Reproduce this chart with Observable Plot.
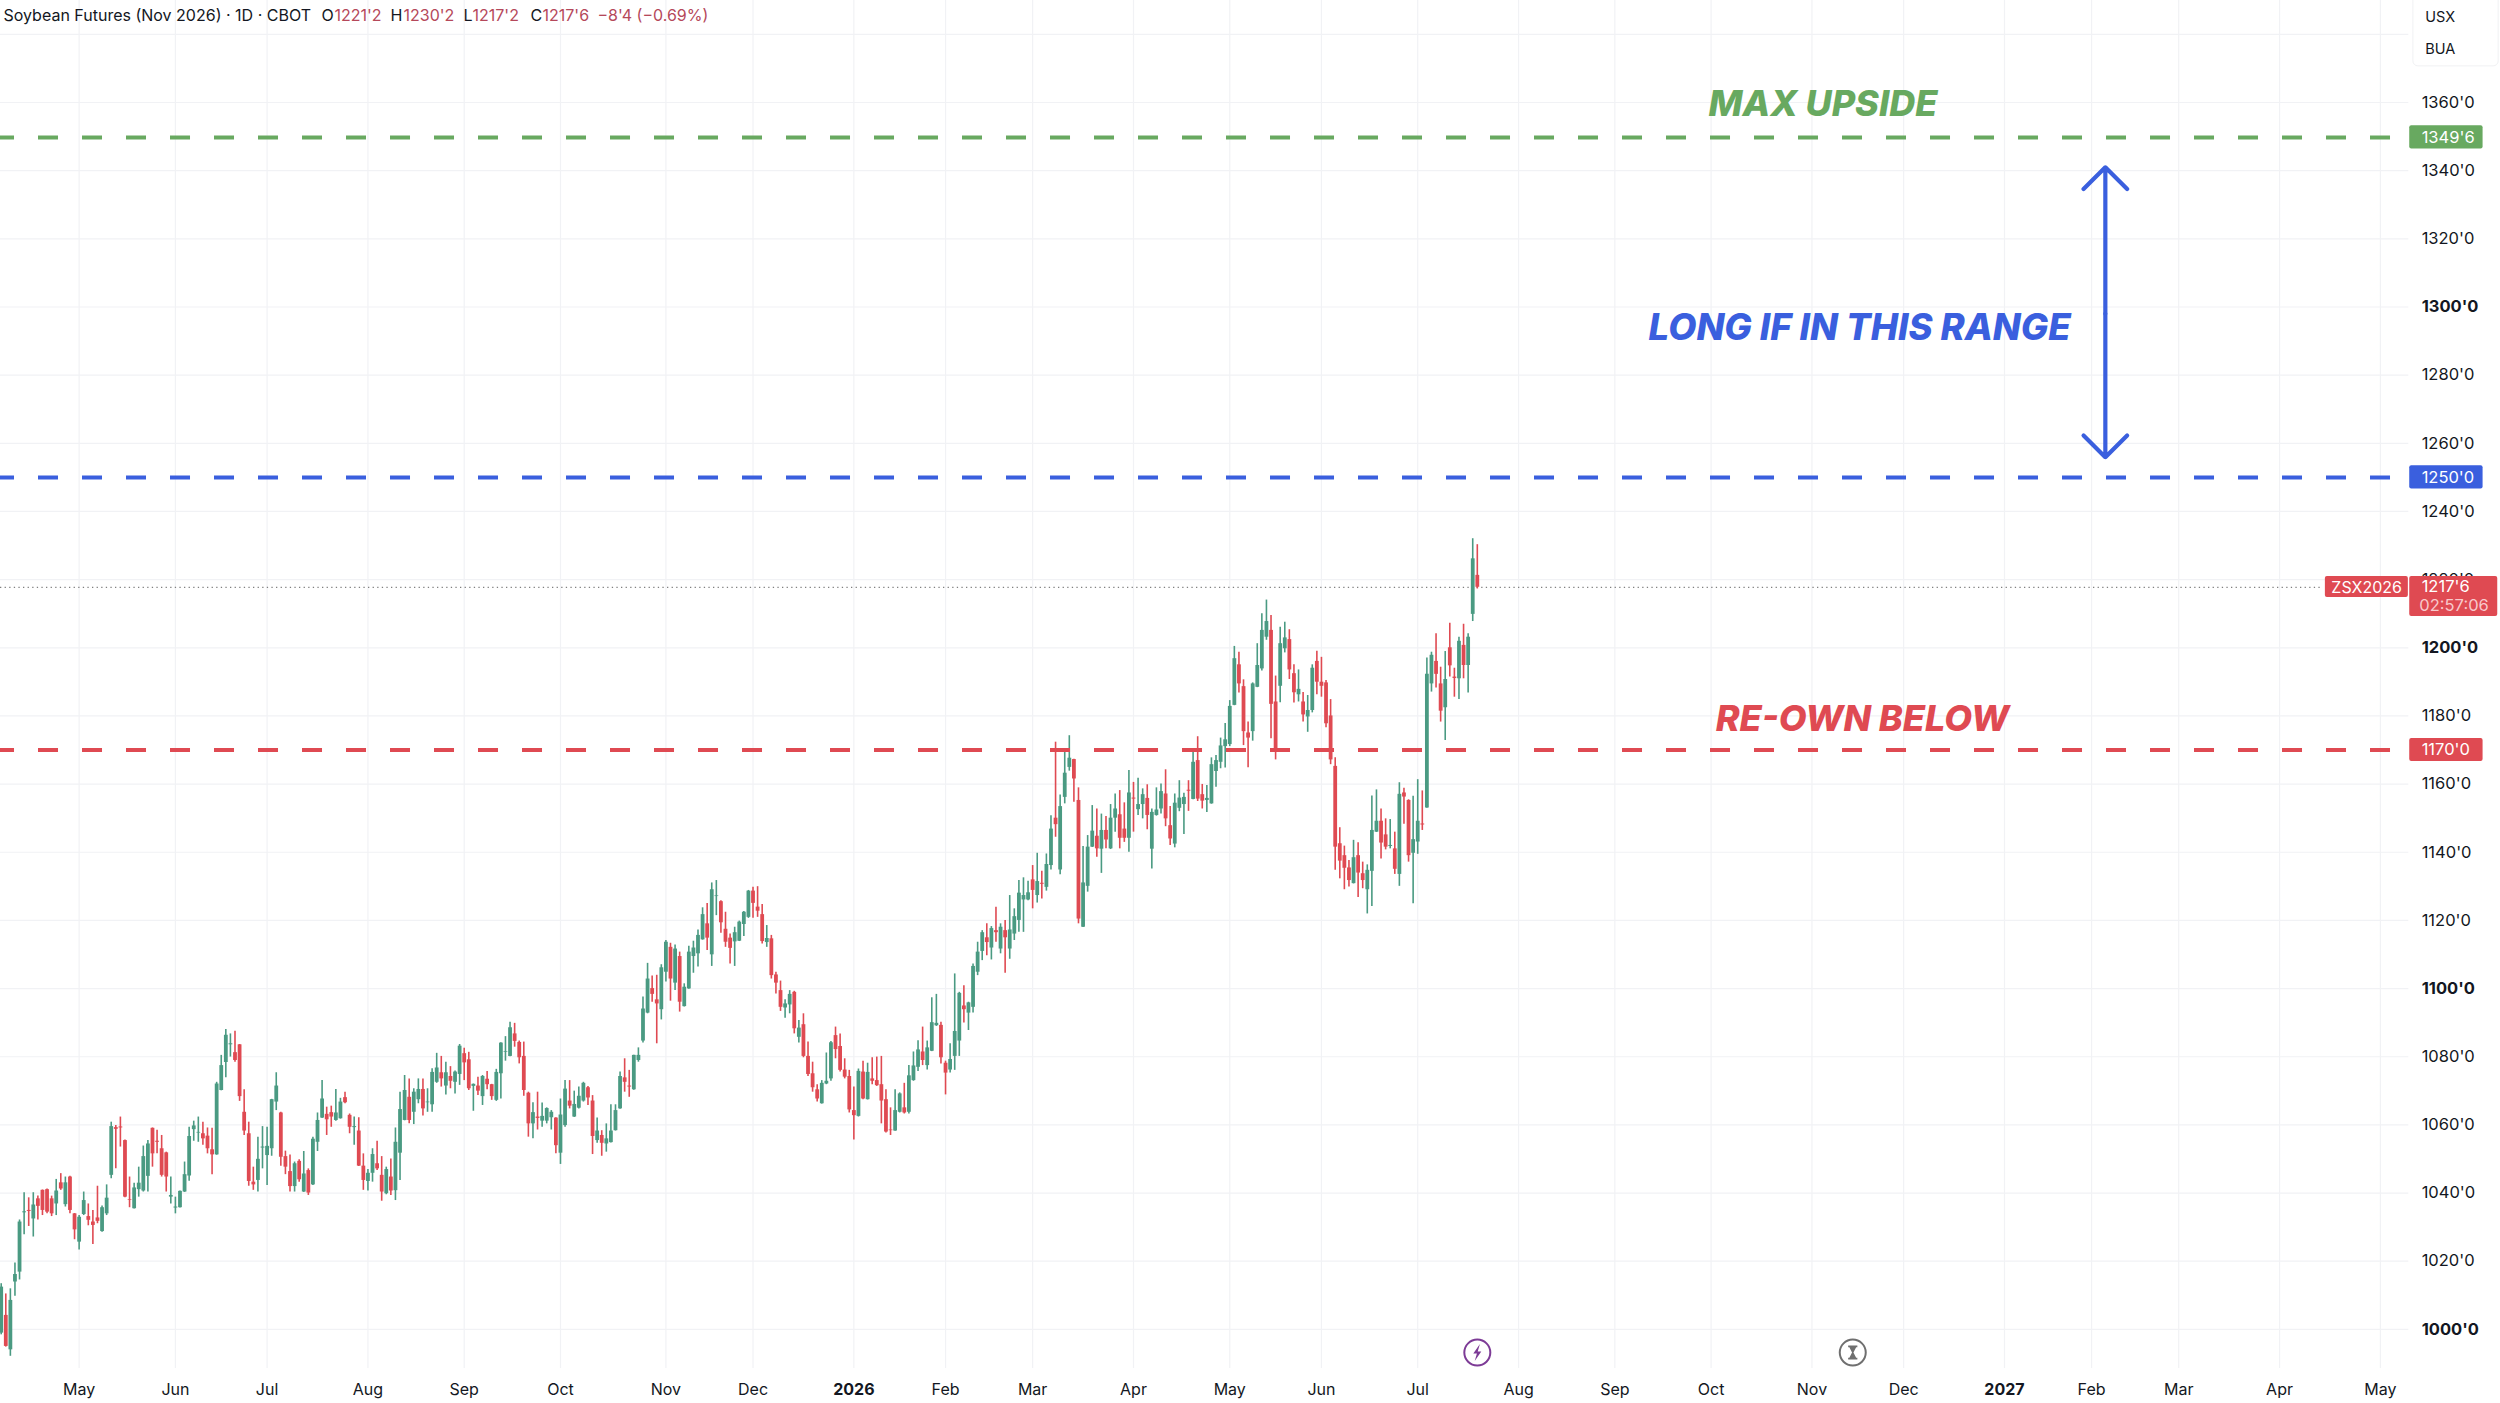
<!DOCTYPE html>
<html>
<head>
<meta charset="utf-8">
<script src="https://cdn.jsdelivr.net/npm/d3@7"></script>
<script src="https://cdn.jsdelivr.net/npm/@observablehq/plot@0.6"></script>
<style>html,body{margin:0;padding:0;background:#fff}svg{display:block}</style>
</head>
<body>
<div id="chart"></div>
<script>
// Each row: open, high, low, close (cents per bushel).
const barsApr2025 = [
[998.9,1013.4,998.4,1012.4],[1004.1,1010.4,994.8,995],[994,1011.9,992.1,1008.5],[1013.9,1019.5,1009.7,1016.1],[1016.8,1032.1,1014.5,1031.5],
[1034.2,1040.1,1027.8,1034.5],[1034.9,1038.6,1030.2,1034.6],[1032.4,1040.1,1027.1,1036.5],[1038.3,1039.1,1032.1,1036.1],[1040.8,1040.9,1033.4,1034.9],
[1041,1041.2,1033.9,1034.4],[1038.3,1039.1,1033.1,1033.9],[1036.8,1044,1033.4,1040.6],[1043,1045.7,1040.8,1041.2],[1036.6,1044.7,1035.9,1043],
[1044.7,1044.9,1033.9,1034.9],[1033.9,1034,1026.3,1029.2],[1025.6,1033.4,1023.3,1032.9],[1033.7,1040.3,1033.4,1037.8],[1033.1,1036.8,1030.4,1032],
[1031.5,1034.9,1024.9,1030.5],[1032.7,1042,1031,1031.7],[1028.7,1036.2,1028.5,1035.7],[1033.9,1042.4,1033.4,1038.5],[1045.2,1060.8,1044.2,1059.5],
[1059.2,1059.8,1047.1,1058.7],[1059.4,1062.3,1053.5,1059.1],[1055.4,1055.6,1038.6,1038.8],[1038.1,1044.7,1035.7,1037.9],[1035.4,1042.9,1035.3,1041.5],
[1041,1047.6,1038.8,1042.9],[1040.6,1053.8,1040.3,1050.7],[1044.9,1055.4,1040.3,1054.4],[1059,1059.1,1047.6,1051.5],[1055.2,1058.4,1051.5,1054.9],
[1053,1056.9,1044.7,1045.2],[1051.8,1052,1040.3,1044.7],[1038.8,1044.7,1036.8,1039.3],[1035.6,1038.8,1033.9,1035.9],[1035.7,1040.6,1035.6,1040.5],
[1040.3,1049.1,1040.2,1045.4],[1045,1059.3,1043.5,1056.6],[1058.6,1061.1,1055.2,1059.7],[1057.6,1062.3,1054.9,1057.8],[1057.4,1060.8,1054,1055.9],
[1056.7,1059.1,1051.5,1053],[1052.7,1059,1045.4,1051.2],[1051.2,1072.5,1051.1,1072],[1070.1,1080.4,1070,1077.4],[1078.3,1088,1073.8,1086.3],
[1083.5,1086.7,1079.9,1083.8],[1081.2,1087.5,1078.4,1078.9],[1083.5,1083.6,1066.9,1068.3],[1063.7,1070.3,1056.9,1058.2],[1057.4,1060.8,1042,1043.4]
];
const barsJul2025 = [
[1043.2,1047.6,1040.8,1042.4],[1043.7,1056.4,1040.3,1049.9],[1053.2,1059.5,1047.1,1053.5],[1051,1059.3,1042.2,1053.7],[1053,1067.5,1050.8,1067.4],
[1066.7,1075.3,1064.2,1071.4],[1063.5,1063.7,1047.9,1050.5],[1050.7,1052.3,1045.4,1047.6],[1046.3,1051.2,1040.3,1041.9],[1041.9,1049.1,1040.3,1048.6],
[1049.3,1049.8,1043.2,1043.9],[1040.3,1052.2,1040.2,1045.6],[1046.6,1047.1,1039.3,1040],[1042.4,1056.4,1042.2,1055.8],[1054.9,1063.5,1052.2,1061.3],
[1062,1073,1061.9,1067.6],[1063.1,1065.2,1056.9,1061.5],[1063.6,1065.5,1059.3,1062.3],[1061.3,1070.4,1061.1,1063.5],[1061.8,1067.8,1061.7,1066.7],
[1068,1069.6,1066.2,1066.5],[1062.8,1063.2,1057.4,1059.3],[1059.2,1062.3,1054,1059.5],[1058.2,1062.1,1047.8,1047.9],[1047.9,1051.5,1040.8,1043.7],
[1043.4,1046.9,1040.6,1045.8],[1045.8,1053,1043.2,1051.3],[1048.6,1055.2,1046.6,1047.1],[1045.2,1050.7,1037.6,1040.3],[1039.8,1047.6,1039.5,1046.9],
[1044.7,1050,1039.3,1040.6],[1040.7,1059.1,1037.8,1054.9],[1051.7,1069.6,1043.7,1064.5],[1061.3,1074.5,1061.2,1070.1],[1068.1,1073.5,1060.3,1061.3],
[1063.7,1070.6,1060.1,1069.6],[1067.4,1073.5,1066.2,1070.4],[1070.4,1073.5,1062.6,1064.7],[1066.5,1070.6,1063.7,1066.7],[1065.9,1076.5,1063.7,1075.4],
[1072.5,1081,1072.2,1076.7],[1075.3,1080.1,1071.1,1073.5],[1071.4,1078.4,1068.8,1075.3],[1074.2,1077.1,1070.6,1072.8],[1072.5,1075.8,1069.1,1075.5],
[1074.8,1083.6,1071.6,1083.1],[1080.9,1082.5,1073,1078.2],[1079.1,1081.3,1070.1,1070.6],[1071.3,1072,1064,1071.9],[1071.4,1074,1068.6,1069.9],
[1068.3,1074.5,1065.7,1074.2],[1073.4,1075.7,1070.3,1071.8],[1071.8,1071.9,1067.2,1068.3],[1067.2,1076.3,1066.9,1075.4]
];
const barsOct2025 = [
[1075,1084.1,1067.6,1084],[1081.3,1085.9,1078.7,1081.5],[1080.1,1090.1,1080,1088.5],[1086.7,1089.8,1082.8,1084.5],[1084.2,1084.6,1077.9,1079.7],
[1080.1,1084.3,1068.4,1070.1],[1069.3,1069.6,1056.4,1060.3],[1060.3,1066.5,1055.9,1063.6],[1062.3,1069.6,1058.5,1061.9],[1061.1,1066.4,1059.3,1062.5],
[1061.1,1065,1060.3,1064.8],[1062.1,1064.2,1058.5,1063.7],[1062,1062.1,1051.5,1053.9],[1051.7,1067.6,1048.4,1062.9],[1059.8,1073,1059.3,1070.5],
[1067,1073,1064.7,1065.5],[1062.3,1069.9,1062.2,1066],[1064.9,1071.1,1064.7,1068.4],[1067,1072.5,1066.7,1072.2],[1070.9,1071.3,1065.7,1067.9],
[1067,1068.6,1051.3,1056.6],[1055.4,1062,1054.6,1058.2],[1056.9,1058.3,1050.8,1054.6],[1054.4,1060.3,1052,1055.9],[1054.8,1065.9,1054.7,1058.2],
[1058.3,1065.9,1058.2,1064.2],[1064.7,1075.5,1064.6,1074.2],[1073.8,1079.4,1069.6,1072.5],[1071.4,1076,1068.1,1071.1],[1070.3,1080.4,1070.2,1080.4],
[1078.9,1082.6,1078.4,1080.4],[1084.6,1097.5,1084,1094],[1092.8,1107.4,1092.6,1102.8],[1100,1103.7,1096,1098.3],[1096.7,1103.9,1083.8,1095.5],
[1093.8,1107,1090.8,1106.1],[1104.8,1114.1,1101.9,1113.6],[1112.1,1113.3,1096.3,1102.8],[1101.6,1112.8,1099.4,1111.6],[1109.4,1110.7,1093.1,1096],
[1094.7,1101.4,1094.6,1100.4],[1099.9,1112.4,1099.8,1110.7],[1109.4,1113.9,1104.5,1111.9],[1110.2,1117.2,1106.3,1115.6],[1114.3,1123.7,1114.2,1121.7],
[1119,1125,1111.2,1114.8],[1109.9,1131,1106.5,1129],[1127,1131.7,1121.4,1127.2],[1125.5,1125.8,1116.2,1119.3],[1117.4,1122.4,1112.1,1113.6],
[1114.8,1116,1107.2,1111.8],[1113.7,1118,1106.5,1116.4],[1113.9,1119.8,1113.8,1119.5],[1118.8,1122.6,1115.3,1122.4],[1120.9,1128.8,1120.6,1128.6]
];
const barsJan2026 = [
[1128.6,1129.7,1120.6,1125],[1123.9,1129.9,1120.9,1122.7],[1121.7,1124.7,1113.1,1113.8],[1113.5,1118.5,1112.1,1114.7],[1114.6,1115.6,1102.8,1103.8],
[1104,1104.8,1098.4,1101.6],[1099.4,1102.2,1093.3,1094.5],[1094.3,1096.7,1091.3,1095.5],[1095.2,1099.4,1092.6,1098.3],[1098.9,1099.2,1086.7,1088.2],
[1085.7,1090.6,1084,1088.4],[1089.4,1092.6,1079.7,1080.1],[1080.1,1084.3,1074.2,1074.8],[1075,1078.4,1069.6,1070.9],[1070.3,1071.8,1066.7,1067.6],
[1066.2,1073,1066.1,1072.2],[1072,1081.1,1071.8,1072.8],[1073.5,1084.5,1072.8,1084.1],[1086.2,1088.7,1079.4,1082.1],[1083,1086.7,1075.5,1076],
[1076.1,1079.4,1073.5,1074],[1074.2,1076,1063.5,1064.4],[1064.2,1071.1,1055.6,1062.7],[1062.5,1076.4,1062.3,1075.7],[1075.5,1078.7,1067.4,1067.6],
[1067.4,1078.1,1067.3,1075.4],[1073.5,1079.7,1071.8,1072.8],[1073,1079.9,1071.3,1071.5],[1071.8,1080.1,1060.3,1067],[1067.4,1070.3,1057.6,1057.9],
[1058.5,1065,1056.9,1058.3],[1058.2,1070.3,1058.1,1064.2],[1063.7,1069.4,1063.5,1069.1],[1065,1072.2,1063.2,1063.5],[1063.7,1077.4,1063.2,1074.4],
[1073,1081.4,1072.8,1077.3],[1076.9,1084.7,1075.7,1082],[1081.4,1088.7,1077.4,1078.9],[1077.4,1084.6,1076.1,1082.6],[1081.6,1097.3,1081.5,1090],
[1089.1,1098.3,1088.9,1089.8],[1089.2,1090.1,1077.9,1079.7],[1078.1,1078.7,1068.8,1075.2],[1076.1,1083.8,1075.2,1079.2],[1080.1,1104.3,1076,1087.4],
[1084.6,1098.9,1080.1,1098.6],[1094.9,1100.8,1089.9,1093.8],[1092.8,1096,1087.7,1095.8],[1094.5,1107.2,1092.8,1106.5],[1104.8,1113.6,1103.8,1110.7],
[1110.9,1117,1108.2,1116.4],[1114.9,1119,1109.6,1113.5],[1111.9,1118.2,1108.4,1117.6],[1117,1123.9,1113.6,1116.4]
];
const barsMar2026 = [
[1111.6,1119,1110.2,1118],[1117,1120,1104.5,1114.9],[1111.6,1127.3,1108.6,1117.2],[1116,1123.4,1114.1,1121.1],[1120,1131.7,1116.5,1128],
[1126,1132.5,1116.5,1127.3],[1126,1131.5,1125.8,1128.1],[1131.9,1136.1,1123.4,1128.8],[1127.3,1139.7,1125.1,1131.4],[1130.9,1134.4,1126.3,1130.6],
[1129.7,1139.5,1128.6,1136.4],[1136.1,1150.7,1134.8,1146.8],[1150,1172.3,1144.4,1148.1],[1134.8,1156.8,1133.4,1153.4],[1156.1,1170.3,1154.2,1163.2],
[1164.9,1174.2,1163.8,1167.6],[1167.2,1167.3,1154.7,1161.5],[1155.2,1158.9,1119,1120.4],[1118,1141.7,1117.9,1131],[1130,1144.9,1128.3,1141.5],
[1141.5,1153.7,1141.4,1146.2],[1144.7,1152.7,1138.5,1141],[1140.9,1151.2,1133.8,1146.4],[1146.4,1150.5,1141,1143.6],[1141,1154,1140.8,1150],
[1150,1157.1,1145.9,1152.7],[1151,1158.1,1141,1144.1],[1146.8,1154.5,1142.9,1144.1],[1144.1,1164,1140,1157.4],[1155.9,1160.5,1145.9,1155.6],
[1152.5,1161.7,1150.8,1154],[1154,1158.6,1149.8,1156.9],[1155.8,1159.8,1146.6,1150.8],[1140.9,1152.7,1135.1,1151.7],[1150.8,1158.9,1150.6,1152.4],
[1152.7,1160,1151.2,1157.8],[1157.1,1164.2,1147.5,1149.8],[1147.8,1153.4,1142,1143.9],[1142.4,1157.1,1141.3,1154.4],[1152.9,1161,1151.9,1155.9],
[1154,1157.3,1145.2,1156.1],[1158.2,1161,1152,1157.9],[1155.5,1169.3,1155.4,1166.4],[1166.9,1173.9,1154.9,1155.6],[1156.9,1159.9,1152.7,1155],
[1155.2,1159.6,1151.7,1155.8],[1154.2,1167.7,1154.1,1165.7],[1163.7,1168.4,1159.1,1166.9],[1166.4,1173.5,1164.5,1171.2],[1171,1177.8,1164.7,1173],
[1171.6,1184.5,1171,1182.8]
];
const barsMay2026 = [
[1183.1,1200.4,1183,1196.8],[1195,1198.7,1186.7,1189.4],[1188.6,1190.6,1171.3,1175.4],[1175,1178.2,1164.8,1173.5],[1175.4,1189.7,1172.6,1189.4],
[1188.4,1201.2,1188.3,1194.8],[1193.8,1210,1193.2,1205.1],[1203.1,1214,1202.2,1207.7],[1205.1,1209.5,1173.3,1183.4],[1184.1,1191.7,1167.1,1170],
[1188.7,1206,1183.9,1201.2],[1199.7,1207.5,1198.5,1202.9],[1202.4,1205.3,1190.7,1193.5],[1192.4,1195,1183.8,1186.8],[1186.2,1193.5,1184.1,1187.8],
[1184.1,1186.9,1178.2,1180.3],[1179.7,1186,1175.2,1181.6],[1181.6,1195,1180.9,1194],[1196,1199,1186.2,1189.9],[1189.9,1197.2,1185.5,1188.7],
[1189.7,1190.4,1176.5,1177.7],[1180,1184.8,1165.7,1167.1],[1165.2,1167.7,1134.7,1141.5],[1142.5,1147.2,1132.2,1137.4],[1139,1141.8,1129,1135.3],
[1135.4,1137.6,1129.8,1131.7],[1130.8,1143.5,1130.7,1138.4],[1139,1142.8,1126.7,1133.9],[1133.7,1137.1,1129.3,1131.7],[1129,1136.3,1121.9,1134.7],
[1134.4,1156.5,1124.1,1146.4],[1145.9,1158.3,1145.8,1149.1],[1149.1,1152.7,1138,1142.7],[1145.1,1149.8,1140.7,1141.5],[1141.7,1149.6,1141,1142],
[1141,1145.9,1133.5,1135],[1133.5,1160.4,1130,1157],[1157.4,1158.8,1148.2,1156.2],[1155.2,1155.4,1137.1,1139],[1139.7,1156.4,1124.9,1143.7],
[1143,1161.3,1139.4,1149.1],[1148.3,1158,1146.4,1148],[1153,1197,1152.9,1192.2],[1189.4,1198.7,1187,1197.8],[1196,1204.1,1188.2,1192.2],
[1189.4,1194.3,1178.2,1181.4],[1182.4,1198.9,1172.8,1190.7],[1200,1207.2,1191.4,1194.7],[1191.4,1194,1185.5,1191],[1190.9,1203.1,1184.8,1201.9],
[1200.7,1206.9,1190.9,1194.8],[1194.8,1204.1,1186.7,1203.1],[1209.8,1232,1207.7,1226.1],[1221.25,1230.25,1217.25,1217.75]
];

const timeTickBars   = [17,38,58,80,101,122,145,164,186,206,225,247,268,288,309,331,352,373,395,415,437,456,475,497,519];
const timeTickLabels = ["May","Jun","Jul","Aug","Sep","Oct","Nov","Dec","2026","Feb","Mar","Apr","May","Jun","Jul","Aug","Sep","Oct","Nov","Dec","2027","Feb","Mar","Apr","May"];
const gridPrices  = [1380,1360,1340,1320,1300,1280,1260,1240,1220,1200,1180,1160,1140,1120,1100,1080,1060,1040,1020,1000];
const axisPrices  = [1360,1340,1320,1280,1260,1240,1220,1180,1160,1140,1120,1080,1060,1040,1020];
const boldPrices  = [1300,1200,1100,1000];
const levelPrices = [1349.75,1250,1170];
const levelLabels = ["1349'6","1250'0","1170'0"];
const levelColors = ["#68a960","#3a5fde","#df4a52"];
const lastPrice = 1217.75;

const GREEN = "#4a9a82", RED = "#df4a52", GRID = "#f1f2f5", INK = "#131722", QUOTE = "#b5485a";
const FONT = "Inter, 'Open Sans', sans-serif";

const candles = [...barsApr2025, ...barsJul2025, ...barsOct2025, ...barsJan2026, ...barsMar2026, ...barsMay2026]
  .map(([open, high, low, close], i) => ({i, open, high, low, close, color: close >= open ? GREEN : RED}));
const timeTicks = timeTickBars.map((bar, k) => ({bar, label: timeTickLabels[k]}));
const yearTicks = timeTicks.filter(d => /^\d/.test(d.label));
const monthTicks = timeTicks.filter(d => !/^\d/.test(d.label));
const levels = levelPrices.map((price, k) => ({price, label: levelLabels[k], color: levelColors[k]}));

const xMin = -0.153, xMax = 545.2, yMin = 978.25, yMax = 1389.93;
const gridEnd = 525.2, axisText = 528, tagEnd = 541.4, chartBottomPrice = 988.5;

const headerParts = [
  {t: "Soybean Futures (Nov 2026) · 1D · CBOT", dx: 3, c: INK},
  {t: "O", dx: 321, c: INK}, {t: "1221'2", dx: 334, c: QUOTE},
  {t: "H", dx: 390, c: INK}, {t: "1230'2", dx: 403, c: QUOTE},
  {t: "L", dx: 463, c: INK}, {t: "1217'2", dx: 472, c: QUOTE},
  {t: "C", dx: 530, c: INK}, {t: "1217'6", dx: 542, c: QUOTE},
  {t: "−8'4 (−0.69%)", dx: 597, c: QUOTE}
];

const boltSymbol = {draw(c) { c.moveTo(2.6,-8.5); c.lineTo(-4,1); c.lineTo(-0.4,1); c.lineTo(-2.6,8.5); c.lineTo(4,-1); c.lineTo(0.4,-1); c.closePath(); }};
const glassSymbol = {draw(c) {
  c.rect(-4.6,-7,9.2,1.7); c.rect(-4.6,5.3,9.2,1.7);
  c.moveTo(-3.4,-5.3); c.lineTo(3.4,-5.3); c.lineTo(0.7,0); c.lineTo(3.4,5.3); c.lineTo(-3.4,5.3); c.lineTo(-0.7,0); c.closePath();
}};
const AX = {textAnchor: "start", fill: INK, fontSize: 16.5};
const NOTE = {fontSize: 36, fontWeight: 800, fontStyle: "italic"};

const chart = Plot.plot({
  width: 2500, height: 1403,
  marginLeft: 0, marginRight: 0, marginTop: 0, marginBottom: 0,
  style: {background: "#fff", fontFamily: FONT, overflow: "hidden"},
  x: {domain: [xMin, xMax], range: [0, 2500], axis: null},
  y: {domain: [yMin, yMax], range: [1403, 0], axis: null},
  marks: [
    Plot.ruleX(timeTicks, {x: "bar", y1: chartBottomPrice, y2: yMax, stroke: GRID, strokeWidth: 1.2}),
    Plot.ruleY(gridPrices, {y: d => d, x1: xMin, x2: gridEnd, stroke: GRID, strokeWidth: 1.2}),
    Plot.ruleY([lastPrice], {y: d => d, x1: xMin, x2: 506.4, stroke: "#808080", strokeWidth: 1.2, strokeDasharray: "1.3,3.3"}),
    Plot.ruleX(candles, {x: "i", y1: "low", y2: "high", stroke: "color", strokeWidth: 1.6}),
    Plot.ruleX(candles, {x: "i", y1: "open", y2: "close", stroke: "color", strokeWidth: 3.8}),
    Plot.ruleY(levels, {y: "price", x1: -1.46, x2: 521.7, stroke: "color", strokeWidth: 4, strokeDasharray: "20,24"}),
    Plot.text(["MAX UPSIDE"], {text: d => d, x: 397.4, y: 1359.5, fill: "#68a960", ...NOTE}),
    Plot.text(["LONG IF IN THIS RANGE"], {text: d => d, x: 405.4, y: 1293.7, fill: "#3a5fde", ...NOTE, fontSize: 36.5}),
    Plot.text(["RE-OWN BELOW"], {text: d => d, x: 406, y: 1179, fill: "#df4a52", ...NOTE}),
    Plot.arrow([{y1: 1298, y2: 1341}, {y1: 1298, y2: 1255.9}], {x: 459, y1: "y1", y2: "y2", bend: 0, stroke: "#3a5fde", strokeWidth: 4.2, headAngle: 90, headLength: 11, strokeLinecap: "round"}),
    // price axis
    Plot.text(axisPrices, {text: d => d + "'0", x: axisText, y: d => d, ...AX}),
    Plot.text(boldPrices, {text: d => d + "'0", x: axisText, y: d => d, ...AX, fontWeight: 700}),
    Plot.rect(levels, {x1: 525.4, x2: tagEnd, y1: d => d.price - 3.4, y2: d => d.price + 3.4, fill: "color", rx: 2}),
    Plot.text(levels, {text: "label", x: axisText, y: "price", ...AX, fill: "#fff"}),
    Plot.rect([lastPrice], {x1: 507, x2: 525.1, y1: 1214.75, y2: 1220.9, fill: RED, rx: 2}),
    Plot.rect([lastPrice], {x1: 525.4, x2: 544.6, y1: 1209.2, y2: 1220.9, fill: RED, rx: 2}),
    Plot.text(["ZSX2026"], {text: d => d, x: 516, y: 1217.7, fill: "#fff", fontSize: 16}),
    Plot.text(["1217'6"], {text: d => d, x: axisText, y: 1217.8, ...AX, fill: "#fff"}),
    Plot.text(["02:57:06"], {text: d => d, x: axisText - 0.5, y: 1212.2, ...AX, fill: "#f8c9cc"}),
    // currency box
    Plot.rect(["USX"], {x1: 526.2, x2: 544.8, y1: 1370.6, y2: 1392, fill: "#fff", stroke: "#f0f1f3", rx: 5}),
    Plot.text(["USX"], {text: d => d, x: 528.8, y: 1385.1, ...AX, fontSize: 14.5}),
    Plot.text(["BUA"], {text: d => d, x: 528.8, y: 1375.5, ...AX, fontSize: 14.5}),
    // time axis
    Plot.text(monthTicks, {text: "label", x: "bar", frameAnchor: "bottom", dy: -9, fill: INK, fontSize: 16, lineAnchor: "bottom"}),
    Plot.text(yearTicks, {text: "label", x: "bar", frameAnchor: "bottom", dy: -9, fill: INK, fontSize: 16, fontWeight: 700, lineAnchor: "bottom"}),
    // header
    ...headerParts.map(p => Plot.text([p.t], {text: d => d, frameAnchor: "top-left", dx: p.dx, dy: 9, fill: p.c, fontSize: 16, textAnchor: "start", lineAnchor: "top"})),
    // event markers
    Plot.dot([322], {x: d => d, y: 993.2, r: 13, fill: "#fff", stroke: "#7d3b96", strokeWidth: 2}),
    Plot.dot([322], {x: d => d, y: 993.2, symbol: boltSymbol, fill: "#7d3b96", stroke: "none"}),
    Plot.dot([403.9], {x: d => d, y: 993.2, r: 13, fill: "#fff", stroke: "#6f6f6f", strokeWidth: 2}),
    Plot.dot([403.9], {x: d => d, y: 993.2, symbol: glassSymbol, fill: "#6f6f6f", stroke: "none"})
  ]
});
document.getElementById("chart").appendChild(chart);
</script>
</body>
</html>
